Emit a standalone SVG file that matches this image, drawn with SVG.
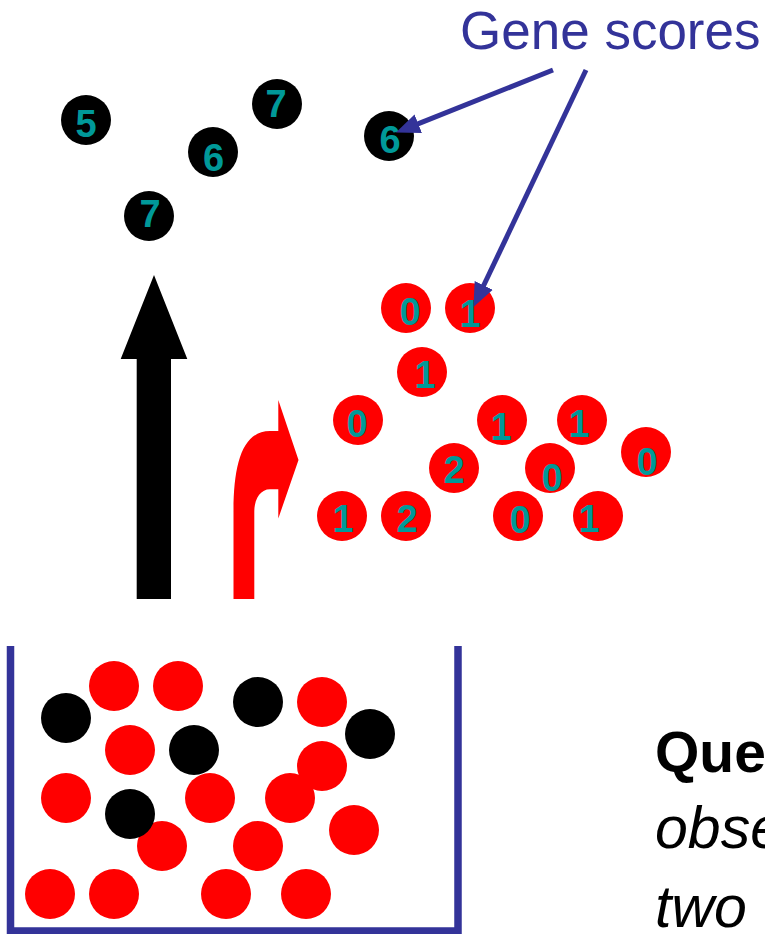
<svg xmlns="http://www.w3.org/2000/svg" width="765" height="934" viewBox="0 0 765 934">
<defs>
<style>
.blk{fill:#000000}
.red{fill:#ff0000}
.num{font-family:"Liberation Sans",Arial,sans-serif;font-weight:700;font-size:38px;fill:#009999;text-anchor:middle}
.lbl{font-family:"Liberation Sans",Arial,sans-serif;font-size:53px;fill:#333399}
.q{font-family:"Liberation Sans",Arial,sans-serif;fill:#000000}
.conn{stroke:#333399;stroke-width:5;fill:none}
</style>
<marker id="ah" markerUnits="userSpaceOnUse" viewBox="0 -12 26 24" markerWidth="26" markerHeight="24" refX="1" refY="0" orient="auto">
<path d="M0,-10 L24,0 L0,10 Z" fill="#333399"/>
</marker>
</defs>
<rect x="0" y="0" width="765" height="934" fill="#ffffff"/>

<g id="gene-scores-label"><text class="lbl" x="460" y="49">Gene scores</text></g>

<g id="black-scores">
<g id="b1"><circle class="blk" cx="86" cy="120" r="25"/><text class="num" x="86" y="137">5</text></g>
<g id="b2"><circle class="blk" cx="213" cy="152" r="25"/><text class="num" x="213.5" y="170.5">6</text></g>
<g id="b3"><circle class="blk" cx="277" cy="104" r="25"/><text class="num" x="276" y="116.5">7</text></g>
<g id="b4"><circle class="blk" cx="149" cy="216" r="25"/><text class="num" x="150" y="226.5">7</text></g>
<g id="b5"><circle class="blk" cx="389" cy="136" r="25"/><text class="num" x="390" y="153">6</text></g>
</g>

<g id="red-scores">
<g id="r1"><circle class="red" cx="406" cy="308" r="25"/><text class="num" x="410" y="325">0</text></g>
<g id="r2"><circle class="red" cx="470" cy="308" r="25"/><text class="num" x="470" y="327">1</text></g>
<g id="r3"><circle class="red" cx="422" cy="372" r="25"/><text class="num" x="425" y="388">1</text></g>
<g id="r4"><circle class="red" cx="358" cy="420" r="25"/><text class="num" x="357" y="437">0</text></g>
<g id="r5"><circle class="red" cx="502" cy="420" r="25"/><text class="num" x="501" y="440">1</text></g>
<g id="r6"><circle class="red" cx="582" cy="420" r="25"/><text class="num" x="579" y="437">1</text></g>
<g id="r7"><circle class="red" cx="646" cy="452" r="25"/><text class="num" x="647" y="475">0</text></g>
<g id="r8"><circle class="red" cx="454" cy="468" r="25"/><text class="num" x="454" y="483">2</text></g>
<g id="r9"><circle class="red" cx="550" cy="468" r="25"/><text class="num" x="552" y="491">0</text></g>
<g id="r10"><circle class="red" cx="342" cy="516" r="25"/><text class="num" x="343" y="532">1</text></g>
<g id="r11"><circle class="red" cx="406" cy="516" r="25"/><text class="num" x="407" y="532">2</text></g>
<g id="r12"><circle class="red" cx="518" cy="516" r="25"/><text class="num" x="520" y="533">0</text></g>
<g id="r13"><circle class="red" cx="598" cy="516" r="25"/><text class="num" x="589" y="532">1</text></g>
</g>

<g id="connectors">
<line class="conn" x1="553" y1="70" x2="417.3" y2="124.1" marker-end="url(#ah)"/>
<line class="conn" x1="586" y1="70" x2="483.3" y2="286.3" marker-end="url(#ah)"/>
</g>

<g id="black-arrow">
<path d="M154,275 L187.3,359 L171,359 L171,599 L136.7,599 L136.7,359 L120.7,359 Z" fill="#000000"/>
</g>

<g id="red-arrow">
<path d="M233.5,599 L233.5,512 C233.5,465 242,431 270,431 L278.3,431 L278.3,400 L298.5,460 L278.3,518.5 L278.3,489.3 L270,489.3 C261,489.3 254.3,498 254.3,512 L254.3,599 Z" fill="#ff0000"/>
</g>

<g id="bucket">
<path d="M10.5,646 L10.5,931 L458,931 L458,646" fill="none" stroke="#333399" stroke-width="7.5"/>
<g id="bucket-red">
<circle class="red" cx="114" cy="686" r="25"/>
<circle class="red" cx="178" cy="686" r="25"/>
<circle class="red" cx="322" cy="702" r="25"/>
<circle class="red" cx="130" cy="750" r="25"/>
<circle class="red" cx="322" cy="766" r="25"/>
<circle class="red" cx="66" cy="798" r="25"/>
<circle class="red" cx="210" cy="798" r="25"/>
<circle class="red" cx="290" cy="798" r="25"/>
<circle class="red" cx="354" cy="830" r="25"/>
<circle class="red" cx="162" cy="846" r="25"/>
<circle class="red" cx="258" cy="846" r="25"/>
<circle class="red" cx="50" cy="894" r="25"/>
<circle class="red" cx="114" cy="894" r="25"/>
<circle class="red" cx="226" cy="894" r="25"/>
<circle class="red" cx="306" cy="894" r="25"/>
</g>
<g id="bucket-black">
<circle class="blk" cx="66" cy="718" r="25"/>
<circle class="blk" cx="258" cy="702" r="25"/>
<circle class="blk" cx="194" cy="750" r="25"/>
<circle class="blk" cx="370" cy="734" r="25"/>
<circle class="blk" cx="130" cy="814" r="25"/>
</g>
</g>

<g id="question-text">
<text class="q" x="655" y="772" font-size="57" font-weight="bold">Que</text>
<text class="q" x="655" y="848" font-size="59" font-style="italic">obse</text>
<text class="q" x="655" y="927" font-size="59" font-style="italic">two</text>
</g>
</svg>
